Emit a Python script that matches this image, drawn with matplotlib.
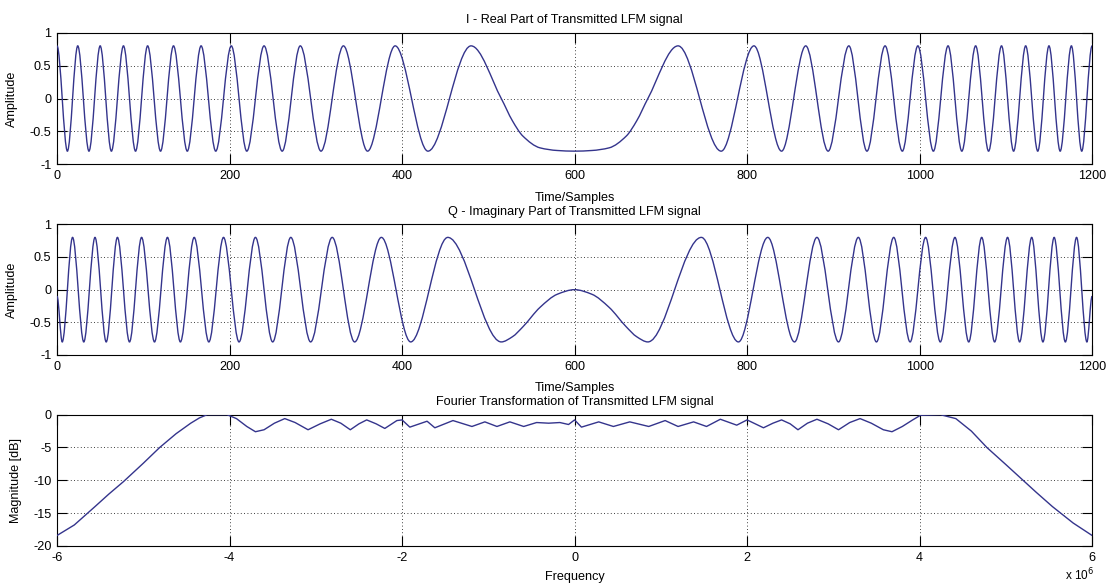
import numpy as np
import matplotlib
matplotlib.use('Agg')
import matplotlib.pyplot as plt
from matplotlib.path import Path
from matplotlib.patches import PathPatch

plt.rcParams['font.family'] = ['Liberation Sans', 'DejaVu Sans']

# values
amp = 0.8

# I channel: sample index of each crest / trough
i_peaks = [0, 24, 50, 77, 105, 135, 167, 202, 240, 282, 332, 392, 480,
           720, 808, 868, 918, 960, 998, 1033, 1065, 1095, 1123, 1150, 1176, 1200]
i_troughs = [12, 37, 63, 91, 120, 151, 184, 220, 261, 306, 360, 430, 600,
             770, 840, 894, 939, 980, 1016, 1049, 1080, 1109, 1137, 1163, 1188]
# extra points around the flat bottom in the middle
i_mid_n = [515, 528, 540, 560, 580, 620, 640, 660, 672, 685]
i_mid_v = [0.0, -0.34, -0.57, -0.75, -0.79, -0.79, -0.75, -0.57, -0.34, 0.0]

# Q channel
q_peaks = [18, 44, 70, 98, 128, 159, 193, 230, 271, 319, 376, 453,
           747, 824, 881, 929, 970, 1007, 1041, 1072, 1102, 1130, 1156, 1182]
q_troughs = [6, 31, 57, 84, 113, 143, 176, 211, 250, 294, 345, 410, 515,
             685, 790, 855, 906, 950, 989, 1024, 1057, 1087, 1116, 1143, 1169, 1194]
q_mid_n = [0, 528, 540, 560, 580, 600, 620, 640, 660, 672, 1200]
q_mid_v = [-0.1, -0.72, -0.57, -0.27, -0.07, 0.0, -0.07, -0.27, -0.57, -0.72, -0.1]

# spectrum, frequency in MHz (axis shows x 10^6) and magnitude in dB
spec_f = [-6.00, -5.80, -5.56, -5.40, -5.23, -5.00, -4.81, -4.62, -4.45, -4.35, -4.26, -4.03,
          -3.92, -3.80, -3.70, -3.60, -3.48, -3.36, -3.24, -3.09, -2.95, -2.82, -2.71, -2.60,
          -2.50, -2.41, -2.30, -2.20, -2.06, -2.00, -1.91, -1.71, -1.62, -1.41, -1.19, -1.04,
          -0.90, -0.75, -0.59, -0.44, -0.30, -0.17, -0.07, 0.00, 0.08, 0.28, 0.45, 0.64,
          0.86, 1.05, 1.20, 1.38, 1.53, 1.69, 1.88, 2.00, 2.19, 2.30, 2.40, 2.50,
          2.59, 2.70, 2.81, 2.94, 3.06, 3.19, 3.31, 3.44, 3.58, 3.68, 3.80, 3.92,
          4.01, 4.24, 4.42, 4.60, 4.78, 5.00, 5.15, 5.35, 5.54, 5.78, 6.00]
spec_db = [-18.4, -16.8, -14.0, -12.1, -10.2, -7.4, -5.0, -2.9, -1.3, -0.5, 0.0, 0.0,
           -0.6, -1.8, -2.6, -2.3, -1.3, -0.6, -1.2, -2.3, -1.4, -0.7, -1.3, -2.3,
           -1.4, -0.8, -1.4, -2.1, -0.9, -0.8, -1.9, -1.0, -2.0, -0.9, -1.8, -1.1,
           -1.8, -1.1, -1.8, -1.2, -1.3, -1.2, -1.5, -0.8, -1.9, -1.1, -1.8, -1.1,
           -1.8, -0.9, -1.8, -1.1, -1.8, -0.7, -1.6, -0.8, -2.0, -1.3, -0.8, -1.4,
           -2.3, -1.3, -0.7, -1.4, -2.3, -1.2, -0.6, -1.3, -2.3, -2.6, -1.8, -0.8,
           -0.1, 0.0, -0.6, -2.5, -5.0, -7.6, -9.4, -11.8, -14.0, -16.5, -18.4]

time_ticks = [0, 200, 400, 600, 800, 1000, 1200]
amp_ticks = [-1, -0.5, 0, 0.5, 1]
amp_labels = ['-1', '-0.5', '0', '0.5', '1']
freq_ticks = [-6, -4, -2, 0, 2, 4, 6]
freq_labels = ['-6', '-4', '-2', '0', '2', '4', '6']
db_ticks = [-20, -15, -10, -5, 0]
db_labels = ['-20', '-15', '-10', '-5', '0']

line_col = '#34348c'
fs = 9.1


def smooth_path(xs, ys):
    # monotone cubic through the knots, handed to matplotlib as bezier segments
    order = np.argsort(xs)
    x = np.asarray(xs, float)[order]
    y = np.asarray(ys, float)[order]
    h = np.diff(x)
    d = np.diff(y) / h
    m = np.zeros(len(x))
    for k in range(1, len(x) - 1):
        if d[k - 1] * d[k] > 0:
            w1 = 2 * h[k] + h[k - 1]
            w2 = h[k] + 2 * h[k - 1]
            m[k] = (w1 + w2) / (w1 / d[k - 1] + w2 / d[k])
    verts = [(x[0], y[0])]
    codes = [Path.MOVETO]
    for k in range(len(x) - 1):
        verts.append((x[k] + h[k] / 3, y[k] + m[k] * h[k] / 3))
        verts.append((x[k + 1] - h[k] / 3, y[k + 1] - m[k + 1] * h[k] / 3))
        verts.append((x[k + 1], y[k + 1]))
        codes += [Path.CURVE4] * 3
    return Path(verts, codes)


def style(ax):
    ax.tick_params(direction='in', length=7, width=0.8, top=True, right=True,
                   labelsize=fs, pad=4)
    ax.grid(True, color='k', linestyle=(0, (1, 3)), linewidth=0.6)
    for s in ax.spines.values():
        s.set_linewidth(0.8)


fig = plt.figure(figsize=(11.12, 5.86), dpi=100)
ax1 = fig.add_axes([0.0513, 0.7196, 0.9308, 0.2246])
ax2 = fig.add_axes([0.0513, 0.3942, 0.9308, 0.2230])
ax3 = fig.add_axes([0.0513, 0.0683, 0.9308, 0.2241])

# I
i_n = i_peaks + i_troughs + i_mid_n
i_v = [amp] * len(i_peaks) + [-amp] * len(i_troughs) + i_mid_v
ax1.add_patch(PathPatch(smooth_path(i_n, i_v), fill=False, edgecolor=line_col, lw=1.0, zorder=3))
ax1.set_title('I - Real Part of Transmitted LFM signal', fontsize=fs, pad=7)

# Q
q_n = q_peaks + q_troughs + q_mid_n
q_v = [amp] * len(q_peaks) + [-amp] * len(q_troughs) + q_mid_v
ax2.add_patch(PathPatch(smooth_path(q_n, q_v), fill=False, edgecolor=line_col, lw=1.0, zorder=3))
ax2.set_title('Q - Imaginary Part of Transmitted LFM signal', fontsize=fs, pad=7)

for ax in (ax1, ax2):
    ax.set_xlim(0, 1200)
    ax.set_ylim(-1, 1)
    ax.set_xticks(time_ticks)
    ax.set_yticks(amp_ticks)
    ax.set_yticklabels(amp_labels)
    ax.set_xlabel('Time/Samples', fontsize=fs)
    ax.xaxis.set_label_coords(0.5, -0.21)
    ax.set_ylabel('Amplitude', fontsize=fs)
    ax.yaxis.set_label_coords(-0.038, 0.5)
    style(ax)

# spectrum
ax3.plot(spec_f, spec_db, color=line_col, lw=1.0, zorder=3)
ax3.set_xlim(-6, 6)
ax3.set_ylim(-20, 0)
ax3.set_xticks(freq_ticks)
ax3.set_xticklabels(freq_labels)
ax3.set_yticks(db_ticks)
ax3.set_yticklabels(db_labels)
ax3.set_title('Fourier Transformation of Transmitted LFM signal', fontsize=fs, pad=7)
ax3.set_xlabel('Frequency', fontsize=fs)
ax3.xaxis.set_label_coords(0.5, -0.19)
ax3.set_ylabel('Magnitude [dB]', fontsize=fs)
ax3.yaxis.set_label_coords(-0.034, 0.5)
style(ax3)
fig.text(1094 / 1112, 1 - 583 / 586, r'x 10$^{6}$', fontsize=fs - 0.6, ha='right', va='bottom')

fig.savefig('out.png', dpi=100)
